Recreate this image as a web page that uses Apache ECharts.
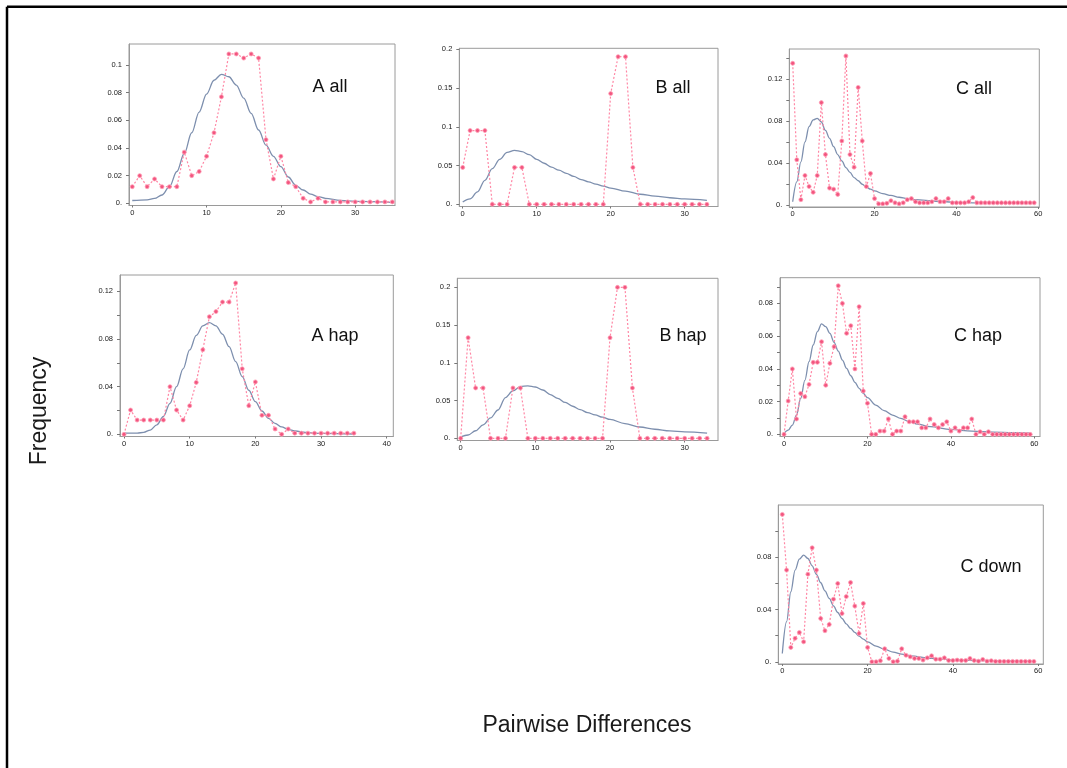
<!DOCTYPE html>
<html><head><meta charset="utf-8">
<script src="https://cdn.jsdelivr.net/npm/echarts@6/dist/echarts.min.js"></script>
<style>html,body{margin:0;padding:0;background:#fff}#c{width:1067px;height:768px}</style>
</head><body><div id="c"></div>
<script>
// ---------- data ----------
const aAllObs = [0.012,0.020,0.012,0.0176,0.012,0.012,0.012,0.037,0.020,0.023,0.034,0.051,0.077,0.108,0.108,0.105,0.108,0.105,0.046,0.0176,0.034,0.015,0.012,0.0036,0.001,0.0036,0.001,0.001,0.001,0.001,0.001,0.001,0.001,0.001,0.001,0.001];
const aAllFit = [[0,0.002],[2,0.0025],[3,0.0035],[4,0.006],[5,0.012],[6,0.023],[7,0.036],[8,0.051],[9,0.066],[10,0.079],[11,0.089],[12,0.0933],[13,0.0915],[14,0.0855],[15,0.076],[16,0.065],[17,0.053],[18,0.042],[19,0.034],[20,0.0265],[21,0.019],[22,0.013],[23,0.0096],[24,0.0066],[25,0.0048],[26,0.0036],[28,0.002],[30,0.0014],[35,0.0007]];

const bAllObs = [0.0476,0.0952,0.0952,0.0952,0,0,0,0.0476,0.0476,0,0,0,0,0,0,0,0,0,0,0,0.1429,0.1905,0.1905,0.0476,0,0,0,0,0,0,0,0,0,0];
const bAllFit = [[0,0.003],[1,0.007],[2,0.016],[3,0.031],[4,0.046],[5,0.058],[6,0.067],[7,0.0697],[8,0.068],[9,0.064],[10,0.058],[11,0.053],[12,0.048],[13,0.044],[14,0.040],[15,0.036],[16,0.032],[17,0.029],[18,0.026],[19,0.0235],[20,0.021],[22,0.017],[24,0.013],[26,0.0105],[28,0.0085],[30,0.007],[33,0.005]];

const cAllObs = [0.135,0.043,0.005,0.028,0.0175,0.012,0.028,0.0975,0.048,0.016,0.015,0.010,0.061,0.142,0.048,0.036,0.112,0.061,0.0175,0.030,0.006,0.001,0.001,0.0015,0.004,0.002,0.001,0.002,0.005,0.006,0.003,0.002,0.002,0.002,0.003,0.006,0.003,0.003,0.006,0.002,0.002,0.002,0.002,0.003,0.007,0.002,0.002,0.002,0.002,0.002,0.002,0.002,0.002,0.002,0.002,0.002,0.002,0.002,0.002,0.002];
const cAllFit = [[0,0.003],[1,0.022],[2,0.041],[3,0.06],[4,0.0746],[5,0.081],[6,0.0825],[7,0.079],[8,0.071],[9,0.0635],[10,0.0555],[11,0.048],[12,0.042],[13,0.0356],[14,0.031],[15,0.026],[16,0.023],[17,0.0197],[18,0.017],[19,0.015],[20,0.0133],[22,0.0108],[24,0.009],[26,0.0073],[28,0.006],[30,0.005],[35,0.0035],[40,0.0025],[45,0.002],[50,0.0019],[59,0.0016]];

const aHapObs = [0,0.0204,0.012,0.012,0.012,0.012,0.012,0.040,0.0204,0.012,0.024,0.0436,0.071,0.0987,0.103,0.111,0.111,0.127,0.055,0.024,0.044,0.016,0.016,0.0045,0,0.0045,0.001,0.001,0.001,0.001,0.001,0.001,0.001,0.001,0.001,0.001];
const aHapFit = [[0,0.001],[2,0.001],[3,0.0017],[4,0.0036],[5,0.008],[6,0.015],[7,0.026],[8,0.040],[9,0.055],[10,0.0708],[11,0.083],[12,0.091],[13,0.0937],[14,0.091],[15,0.084],[16,0.0736],[17,0.061],[18,0.0484],[19,0.037],[20,0.0274],[21,0.0196],[22,0.0134],[23,0.0092],[24,0.0062],[25,0.0042],[26,0.0028],[28,0.0014],[30,0.0008],[35,0.0003]];

const bHapObs = [0,0.1333,0.0667,0.0667,0,0,0,0.0667,0.0667,0,0,0,0,0,0,0,0,0,0,0,0.1333,0.2,0.2,0.0667,0,0,0,0,0,0,0,0,0,0];
const bHapFit = [[0,0.002],[1,0.0044],[2,0.010],[3,0.0177],[4,0.027],[5,0.0375],[6,0.054],[7,0.063],[8,0.0685],[9,0.0695],[10,0.068],[11,0.064],[12,0.058],[13,0.053],[14,0.0475],[15,0.0425],[16,0.038],[17,0.034],[18,0.031],[19,0.028],[20,0.025],[22,0.0195],[24,0.015],[26,0.012],[28,0.0098],[30,0.0085],[33,0.0068]];

const cHapObs = [0,0.0204,0.040,0.0094,0.025,0.023,0.0305,0.044,0.044,0.0566,0.030,0.0434,0.0535,0.0908,0.080,0.0617,0.0664,0.040,0.078,0.0265,0.019,0,0,0.002,0.002,0.0094,0,0.002,0.002,0.0108,0.0077,0.0077,0.0077,0.004,0.004,0.0094,0.006,0.004,0.006,0.0077,0.002,0.004,0.002,0.004,0.004,0.0094,0,0.0016,0,0.0016,0,0,0,0,0,0,0,0,0,0];
const cHapFit = [[0,0.0006],[1,0.0026],[2,0.0057],[3,0.0118],[4,0.022],[5,0.033],[6,0.0444],[7,0.0546],[8,0.0627],[9,0.0675],[10,0.0658],[11,0.0617],[12,0.0562],[13,0.0509],[14,0.0454],[15,0.0403],[16,0.0358],[17,0.0318],[18,0.0281],[19,0.025],[20,0.0224],[22,0.0179],[24,0.0145],[26,0.0118],[28,0.0098],[30,0.0077],[32,0.0063],[35,0.0047],[40,0.003],[45,0.002],[50,0.0014],[55,0.001],[59,0.0008]];

const cDownObs = [0.113,0.0703,0.011,0.018,0.0225,0.0153,0.0672,0.0874,0.0703,0.0332,0.0238,0.0286,0.048,0.060,0.037,0.050,0.0608,0.0427,0.0217,0.0447,0.011,0,0,0.0008,0.010,0.0026,0,0.0005,0.010,0.005,0.0038,0.0026,0.0026,0.0013,0.003,0.0046,0.002,0.002,0.003,0.001,0.001,0.0013,0.001,0.001,0.0026,0.001,0.0005,0.0018,0.0005,0.0008,0.0003,0.0003,0.0003,0.0003,0.0003,0.0003,0.0003,0.0003,0.0003,0.0003];
const cDownFit = [[0,0.0064],[1,0.0307],[2,0.0537],[3,0.0703],[4,0.0787],[5,0.0818],[6,0.0792],[7,0.0736],[8,0.067],[9,0.0606],[10,0.0544],[11,0.0486],[12,0.0429],[13,0.0378],[14,0.0332],[15,0.0291],[16,0.0256],[17,0.0225],[18,0.0197],[19,0.0174],[20,0.0153],[22,0.012],[24,0.0095],[26,0.0074],[28,0.0059],[30,0.0046],[35,0.0026],[40,0.0015],[45,0.001],[50,0.0008],[59,0.0005]];

// tick labels
const xTicks30 = [0,10,20,30];
const xTicks40 = [0,10,20,30,40];
const xTicks60 = [0,20,40,60];
const yLabAall = [0,0.02,0.04,0.06,0.08,0.1];
const yLabB = [0,0.05,0.1,0.15,0.2];
const yLabCall = [0,0.04,0.08,0.12];
const yTickCall = [0,0.02,0.04,0.06,0.08,0.1,0.12,0.14];
const yLabAhap = [0,0.04,0.08,0.12];
const yTickAhap = [0,0.02,0.04,0.06,0.08,0.1,0.12];
const yLabChap = [0,0.02,0.04,0.06,0.08];
const yTickChap = [0,0.01,0.02,0.03,0.04,0.05,0.06,0.07,0.08,0.09];
const yLabCdown = [0,0.04,0.08];
const yTickCdown = [0,0.02,0.04,0.06,0.08,0.1];

const panelNames = ['A all','B all','C all','A hap','B hap','C hap','C down'];
const xTitle = 'Pairwise Differences';
const yTitle = 'Frequency';

// ---------- layout ----------
const panels = [
  {obs:aAllObs, fit:aAllFit, xl:xTicks30, yl:yLabAall, yt:yLabAall, box:[129,44,266,161.5], xr:[-0.44,35.36], yr:[-0.0016,0.1152], lab:[330,87]},
  {obs:bAllObs, fit:bAllFit, xl:xTicks30, yl:yLabB, yt:yLabB, box:[459.3,48.3,258.7,158.2], xr:[-0.46,34.5], yr:[-0.0028,0.2013], lab:[673,88]},
  {obs:cAllObs, fit:cAllFit, xl:xTicks60, yl:yLabCall, yt:yTickCall, box:[789.3,49,250,158], xr:[-0.83,60.25], yr:[-0.002,0.1486], lab:[974,89]},
  {obs:aHapObs, fit:aHapFit, xl:xTicks40, yl:yLabAhap, yt:yTickAhap, box:[120,275,273.3,161.5], xr:[-0.61,41.0], yr:[-0.0018,0.1337], lab:[335,336]},
  {obs:bHapObs, fit:bHapFit, xl:xTicks30, yl:yLabB, yt:yLabB, box:[457.3,278.3,260.7,162.2], xr:[-0.45,34.46], yr:[-0.0029,0.212], lab:[683,336]},
  {obs:cHapObs, fit:cHapFit, xl:xTicks60, yl:yLabChap, yt:yTickChap, box:[780,277.7,260,158.8], xr:[-0.96,61.35], yr:[-0.0013,0.0957], lab:[978,336]},
  {obs:cDownObs, fit:cDownFit, xl:xTicks60, yl:yLabCdown, yt:yTickCdown, box:[778.3,505,265,159], xr:[-0.94,61.2], yr:[-0.0017,0.1202], lab:[991,567]}
];

const FONT = "'Liberation Sans', Arial, Helvetica, sans-serif";
const grid = [], xAxis = [], yAxis = [], series = [], graphic = [];
panels.forEach((p, i) => {
  grid.push({left:p.box[0], top:p.box[1], width:p.box[2], height:p.box[3], show:true,
    borderColor:'#9a9a9a', borderWidth:1, backgroundColor:'transparent', containLabel:false, outerBoundsMode:'none'});
  xAxis.push({type:'value', gridIndex:i, min:p.xr[0], max:p.xr[1], position:'bottom',
    axisLine:{show:true, onZero:false, lineStyle:{color:'#9a9a9a', width:1}},
    axisTick:{show:true, length:2, customValues:p.xl, lineStyle:{color:'#777'}},
    axisLabel:{show:true, customValues:p.xl, margin:3, fontSize:7.5, color:'#222', fontFamily:FONT},
    splitLine:{show:false}});
  yAxis.push({type:'value', gridIndex:i, min:p.yr[0], max:p.yr[1], position:'left',
    axisLine:{show:true, onZero:false, lineStyle:{color:'#9a9a9a', width:1}},
    axisTick:{show:true, length:3, customValues:p.yt, lineStyle:{color:'#777'}},
    axisLabel:{show:true, customValues:p.yl, margin:7, fontSize:7.5, color:'#222', fontFamily:FONT,
      formatter: v => (Math.abs(v) < 1e-9 ? '0.' : String(+(+v).toFixed(3)))},
    splitLine:{show:false}});
  series.push({type:'line', xAxisIndex:i, yAxisIndex:i, data:p.fit, smooth:0.35, smoothMonotone:'x',
    showSymbol:false, symbol:'none', lineStyle:{color:'#7d8fae', width:1.3}, z:2, silent:true});
  series.push({type:'line', xAxisIndex:i, yAxisIndex:i, data:p.obs.map((v, k) => [k, v]),
    symbol:'circle', symbolSize:4, showSymbol:true,
    lineStyle:{color:'#ff86a4', width:1.2, type:[2,2]},
    itemStyle:{color:'#f2557f', borderColor:'#ff9fb6', borderWidth:0.8}, z:3, silent:true});
  graphic.push({type:'text', x:p.lab[0], y:p.lab[1], style:{text:panelNames[i], font:"18px " + FONT,
    fill:'#111', textAlign:'center', textVerticalAlign:'middle', align:'center', verticalAlign:'middle'}});
});

graphic.push({type:'text', x:587, y:726, style:{text:xTitle, font:"23px " + FONT, fill:'#1a1a1a',
  textAlign:'center', textVerticalAlign:'middle', align:'center', verticalAlign:'middle'}});
graphic.push({type:'text', x:40, y:411, rotation:Math.PI/2, style:{text:yTitle, font:"23px " + FONT, fill:'#1a1a1a',
  textAlign:'center', textVerticalAlign:'middle', align:'center', verticalAlign:'middle'}});
// outer frame (left and top edges)
graphic.push({type:'line', shape:{x1:7, y1:6.8, x2:1067, y2:6.8}, style:{stroke:'#000', lineWidth:2.5}});
graphic.push({type:'line', shape:{x1:7, y1:6.8, x2:7, y2:768}, style:{stroke:'#000', lineWidth:2.5}});

const chart = echarts.init(document.getElementById('c'), null, {renderer:'canvas'});
chart.setOption({backgroundColor:'#fff', animation:false, grid, xAxis, yAxis, series, graphic});
</script>
</body></html>
